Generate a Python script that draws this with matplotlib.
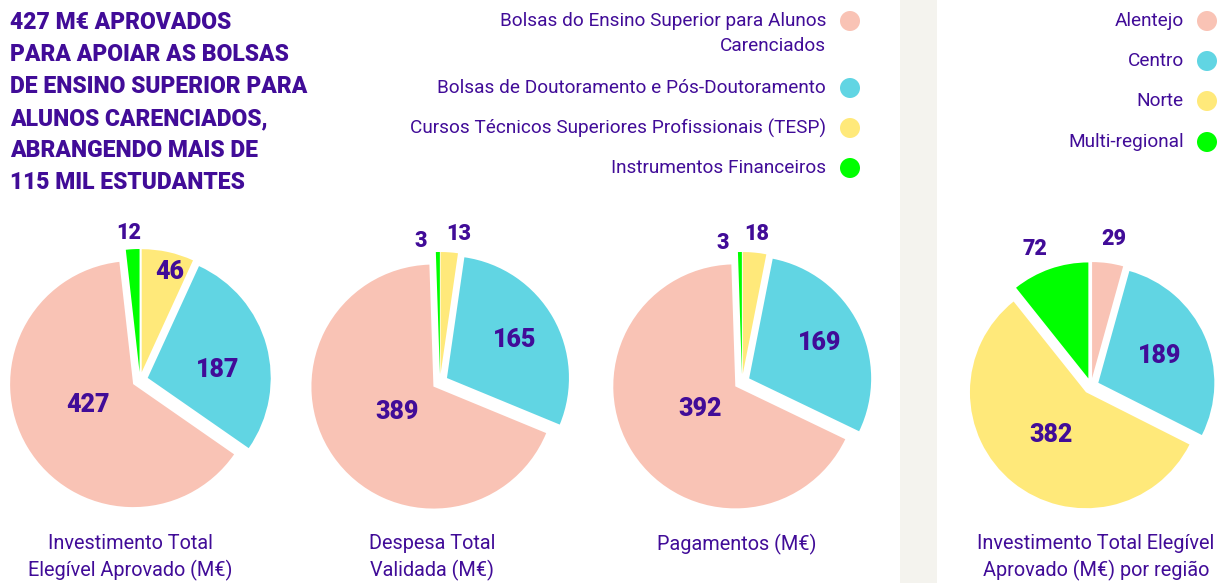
import numpy as np
import matplotlib
matplotlib.use("Agg")
import matplotlib.pyplot as plt
from matplotlib.patches import Circle, Rectangle

plt.rcParams['font.family'] = ['Roboto', 'DejaVu Sans']

# --- data ---
categories = ['Bolsas do Ensino Superior para Alunos\nCarenciados',
              'Bolsas de Doutoramento e Pós-Doutoramento',
              'Cursos Técnicos Superiores Profissionais (TESP)',
              'Instrumentos Financeiros']
investimento = [427, 187, 46, 12]
despesa = [389, 165, 13, 3]
pagamentos = [392, 169, 18, 3]

regioes = ['Alentejo', 'Centro', 'Norte', 'Multi-regional']
invest_regiao = [29, 189, 382, 72]

titles = ['Investimento Total\nElegível Aprovado (M€)',
          'Despesa Total\nValidada (M€)',
          'Pagamentos (M€)',
          'Investimento Total Elegível\nAprovado (M€) por região']

headline = ('427 M€ APROVADOS\nPARA APOIAR AS BOLSAS\nDE ENSINO SUPERIOR PARA\n'
            'ALUNOS CARENCIADOS,\nABRANGENDO MAIS DE\n115 MIL ESTUDANTES')

colors = ['#f9c3b5', '#61d5e3', '#ffe97a', '#00ff00']
txt = '#410c98'

W, H = 1221, 583
fig = plt.figure(figsize=(W / 100, H / 100), dpi=100)
fig.patch.set_facecolor('white')

# overlay axes in pixel coords (y down)
bg = fig.add_axes([0, 0, 1, 1])
bg.set_xlim(0, W)
bg.set_ylim(H, 0)
bg.axis('off')
bg.add_patch(Rectangle((900, 0), 37, H, color='#f4f3ee', lw=0, zorder=0))

bg.text(10, 11, headline, ha='left', va='top', fontsize=16.5, fontweight='black',
        color=txt, linespacing=1.5)

# legend 1
leg_y = [21, 88, 128, 168]
for i, lab in enumerate(categories):
    bg.text(826, leg_y[i] - 9, lab, ha='right', va='top', fontsize=13.7,
            color=txt, linespacing=1.5, multialignment='right')
    bg.add_patch(Circle((850, leg_y[i]), 10, color=colors[i], lw=0))

# legend 2
leg2_y = [21, 61, 101, 142]
for i, lab in enumerate(regioes):
    bg.text(1184, leg2_y[i], lab, ha='right', va='center', fontsize=13.7, color=txt)
    bg.add_patch(Circle((1207, leg2_y[i]), 10, color=colors[i], lw=0))

# pies: center (px), radius (px), clockwise order,
# label radial distances and angular nudges (deg)
pies = [
    (investimento, (140, 380), 123, [2, 1, 0, 3],
     [0.91, 0.64, 0.47, 1.2], [-3, -8, -5, 1], 130),
    (despesa, (440, 382), 122, [2, 1, 0, 3],
     [1.22, 0.70, 0.43, 1.17], [-3, 0, 0, 7], 432),
    (pagamentos, (742, 382), 122, [2, 1, 0, 3],
     [1.22, 0.71, 0.41, 1.15], [0, 0, 0, 7], 737),
    (invest_regiao, (1091, 386), 116, [0, 1, 2, 3],
     [1.28, 0.65, 0.54, 1.28], [-1, 0, 0, 3], 1096),
]

L = 1.45
for k, (vals, (cx, cy), r, order, lr, dang, tx) in enumerate(pies):
    ax = fig.add_axes([(cx - L * r) / W, (H - cy - L * r) / H,
                       2 * L * r / W, 2 * L * r / H])
    v = [vals[i] for i in order]
    c = [colors[i] for i in order]
    wedges, _ = ax.pie(v, colors=c, startangle=90, counterclock=False,
                       explode=[8 / r] * 4, radius=1,
                       wedgeprops=dict(linewidth=0))
    for w, val, d, da in zip(wedges, v, lr, dang):
        ang = np.deg2rad((w.theta1 + w.theta2) / 2 + da)
        big = d < 1
        ax.text(d * np.cos(ang), d * np.sin(ang), str(val), ha='center',
                va='center', fontsize=18 if big else 15.5, fontweight='black',
                color=txt)
    ax.set_xlim(-L, L)
    ax.set_ylim(-L, L)
    ax.set_aspect('equal')
    ax.axis('off')

    bg.text(tx, 534, titles[k], ha='center', va='top', fontsize=14.3,
            color=txt, linespacing=1.4)

fig.savefig('out.png', dpi=100, facecolor='white')
